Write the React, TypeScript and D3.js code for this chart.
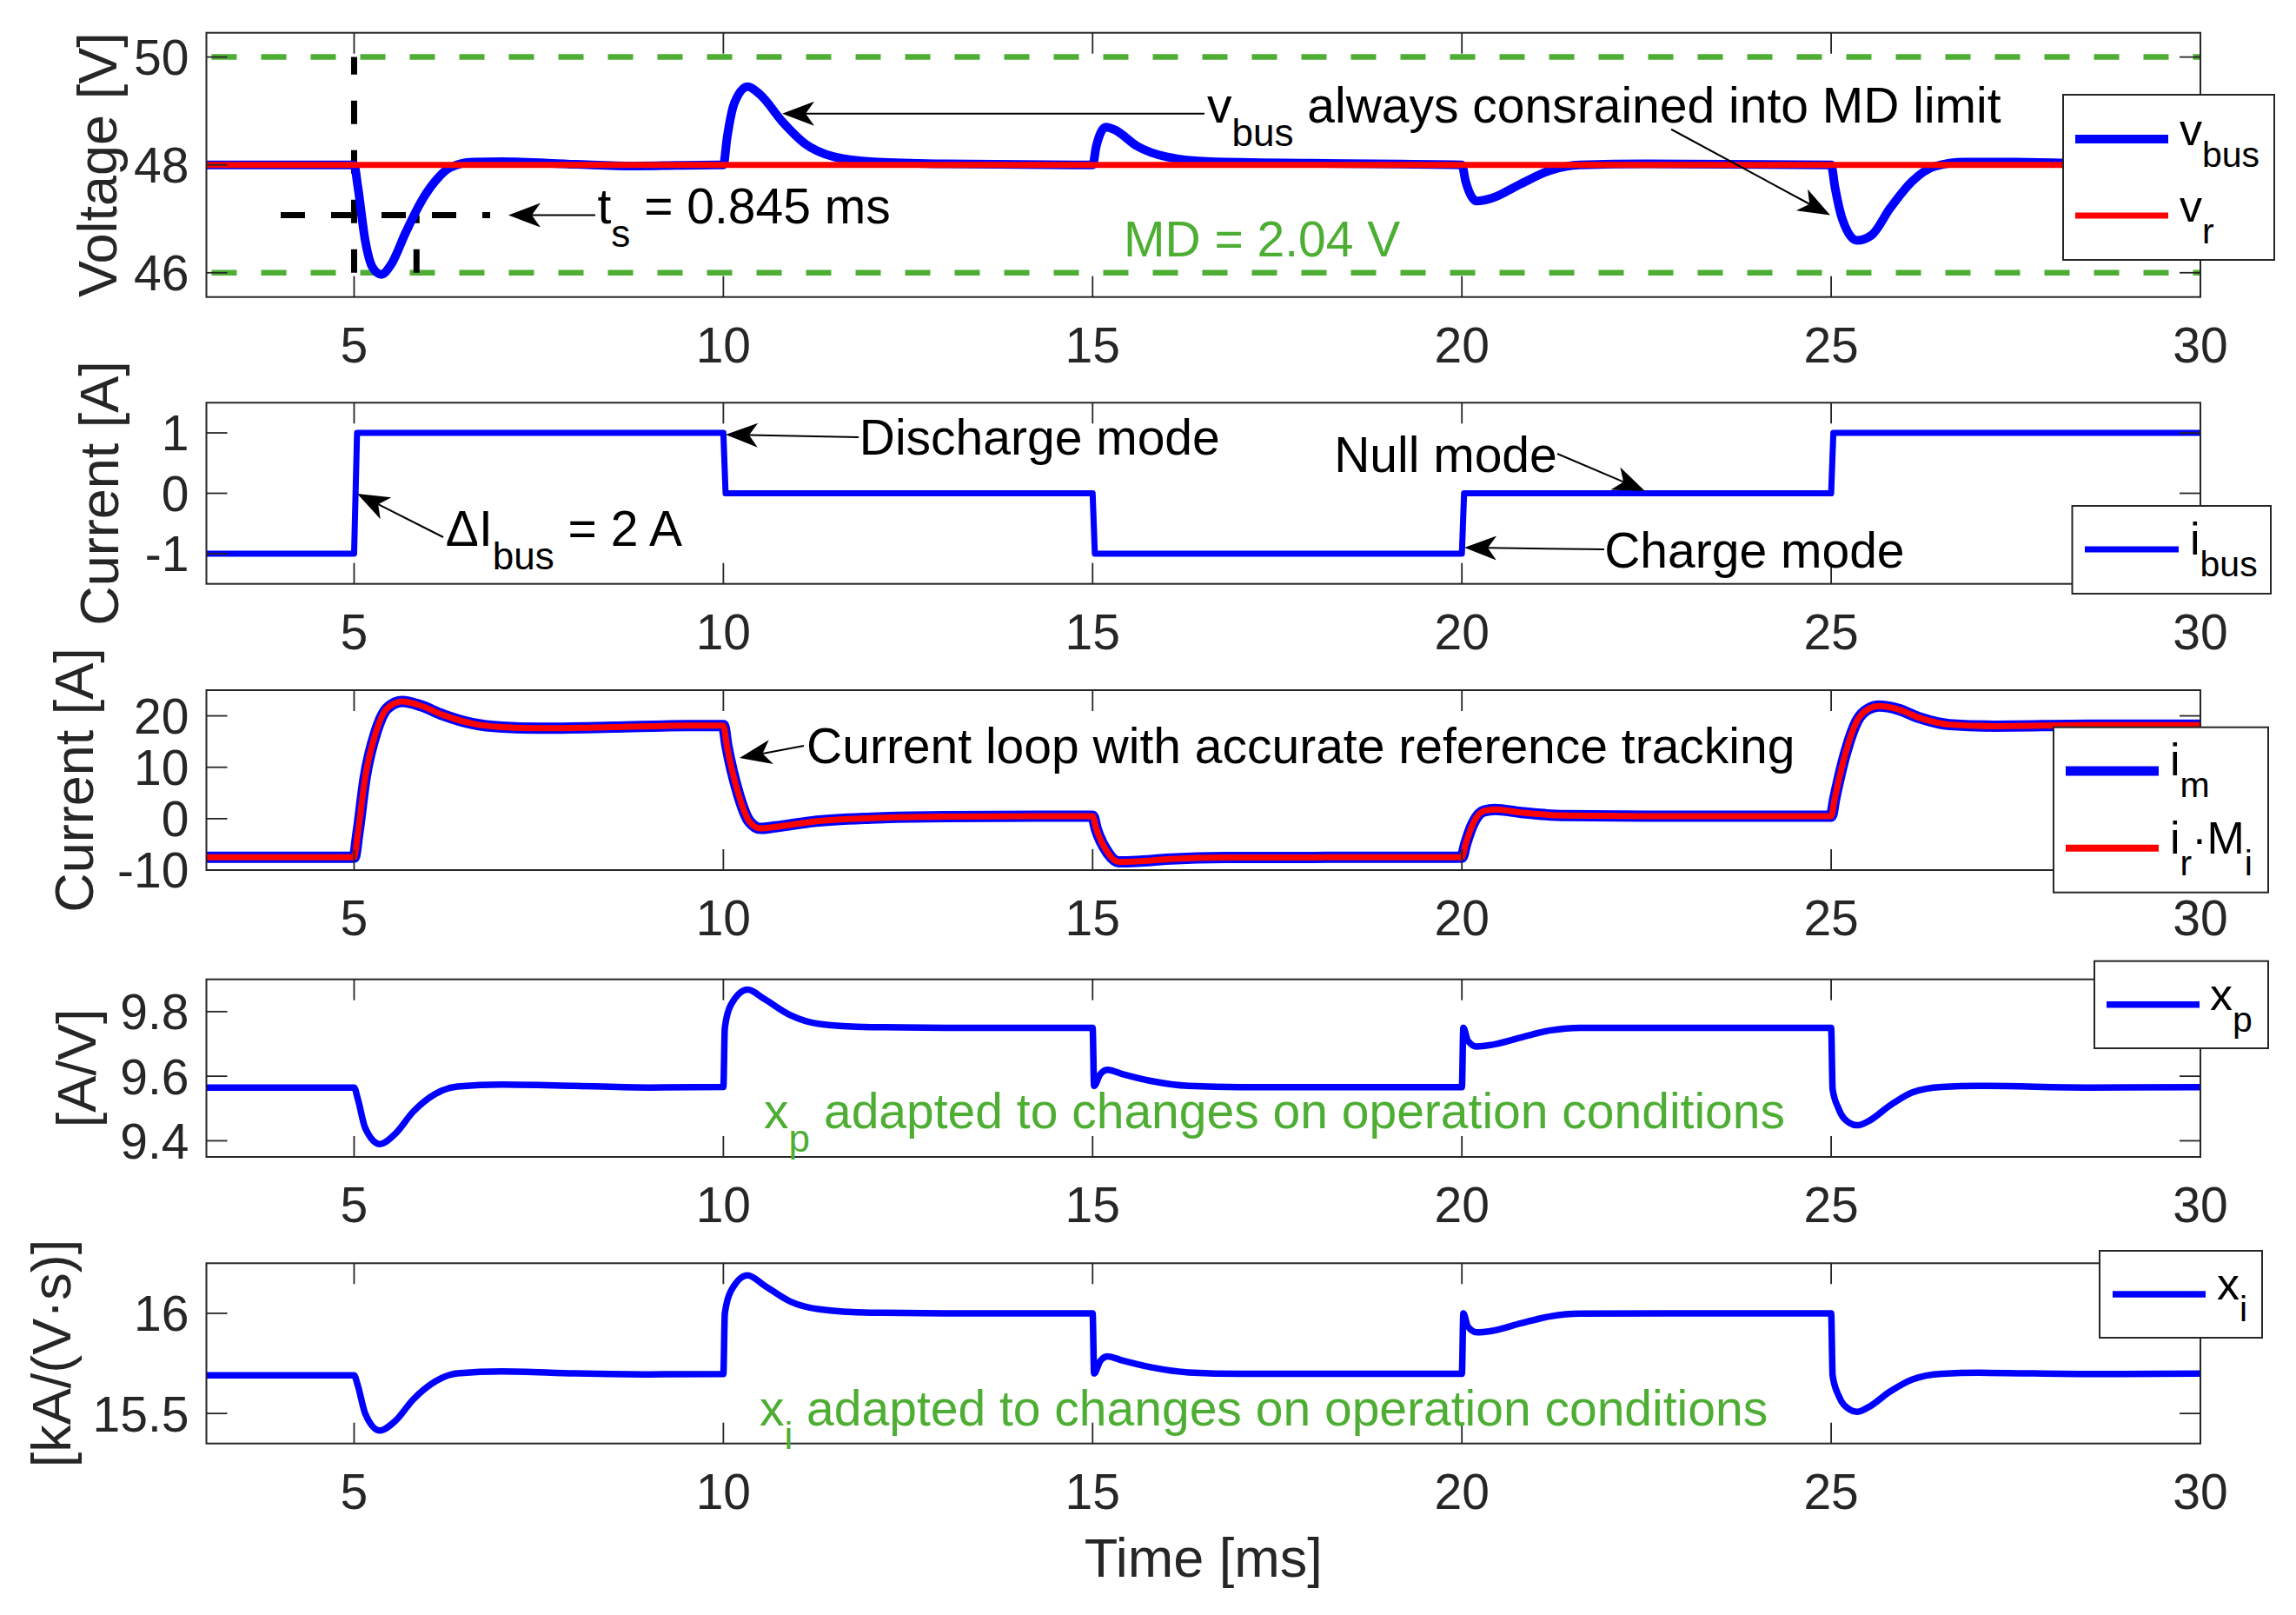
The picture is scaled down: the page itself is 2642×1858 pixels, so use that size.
import React from 'react';
import * as d3 from 'd3';

const W = 2642;
const H = 1858;
const FONT = '"Liberation Sans", Arial, Helvetica, sans-serif';
const AXIS = '#262626';
const BLUE = '#0000FF';
const RED = '#FF0000';
const GREEN = '#4DAE33';

// ---------------- data ----------------
const T_DOMAIN: [number, number] = [3, 30];
const T_TICKS = [5, 10, 15, 20, 25, 30];

type P = [number, number];

const vBus: P[] = [
  [3, 48], [5, 48], [5.05, 47.6], [5.15, 46.6], [5.25, 46.1], [5.37, 45.97], [5.5, 46.15], [5.7, 46.75],
  [5.9, 47.3], [6.1, 47.7], [6.3, 47.95], [6.6, 48.05], [7, 48.06], [8, 48.01], [8.8, 47.98], [9.9, 48.0],
  [10, 48], [10.05, 48.5], [10.15, 49.15], [10.33, 49.45], [10.5, 49.3], [10.8, 48.8], [11.1, 48.4],
  [11.5, 48.15], [12, 48.06], [13, 48.02], [15, 48], [15.05, 48.35], [15.18, 48.7], [15.3, 48.65],
  [15.6, 48.35], [16, 48.15], [16.6, 48.06], [18, 48.03], [20, 48], [20.05, 47.7], [20.2, 47.33],
  [20.4, 47.38], [20.8, 47.65], [21.2, 47.9], [21.6, 48.0], [22.5, 48.02], [25, 48], [25.05, 47.6],
  [25.15, 47.0], [25.35, 46.6], [25.55, 46.7], [25.8, 47.2], [26.1, 47.7], [26.4, 47.97], [26.8, 48.05],
  [27.5, 48.05], [28.5, 48.02], [30, 48],
];
const vRef: P[] = [[3, 48], [30, 48]];
const MD_UPPER = 50;
const MD_LOWER = 46;
const TS_START = 5;
const TS_END = 5.845;
const TS_LEVEL = 47.067;
const TS_LINE_T: [number, number] = [4.006, 6.842];

const iBus: P[] = [
  [3, -1], [5, -1], [5.04, 1], [10, 1], [10.03, 0], [15, 0], [15.03, -1], [20, -1], [20.03, 0], [25, 0],
  [25.03, 1], [30, 1],
];

const iM: P[] = [
  [3, -7.5], [5, -7.5], [5.05, -3], [5.15, 8], [5.3, 17], [5.45, 21.5], [5.65, 22.8], [5.9, 22],
  [6.2, 20.2], [6.6, 18.5], [7, 17.8], [7.5, 17.6], [8.5, 17.8], [9.5, 18.1], [10, 18.1], [10.05, 14],
  [10.2, 5], [10.35, -0.5], [10.5, -1.9], [10.7, -1.6], [11.2, -0.6], [12, 0.1], [13, 0.4], [15, 0.5],
  [15.05, -2], [15.2, -6.5], [15.35, -8.4], [15.6, -8.3], [16, -7.9], [16.8, -7.55], [20, -7.5],
  [20.05, -5], [20.15, -1], [20.3, 1.5], [20.45, 1.8], [20.8, 1.2], [21.4, 0.6], [22.5, 0.5], [25, 0.5],
  [25.05, 4], [25.2, 13], [25.35, 19], [25.5, 21.3], [25.65, 21.9], [25.9, 21.3], [26.2, 19.6],
  [26.6, 18.3], [27.2, 18], [28.5, 18.2], [30, 18.2],
];
const iRM: P[] = [
  [3, -7.5], [5, -7.5], [5.05, -3], [5.15, 8], [5.3, 17], [5.45, 21.5], [5.65, 22.8], [5.9, 22],
  [6.2, 20.2], [6.6, 18.5], [7, 17.8], [7.5, 17.6], [8.5, 17.8], [9.5, 18.1], [10, 18.1], [10.05, 14],
  [10.2, 5], [10.35, -0.5], [10.5, -1.9], [10.7, -1.6], [11.2, -0.6], [12, 0.1], [13, 0.4], [15, 0.5],
  [15.05, -2], [15.2, -6.5], [15.35, -8.4], [15.6, -8.3], [16, -7.9], [16.8, -7.55], [20, -7.5],
  [20.05, -5], [20.15, -1], [20.3, 1.5], [20.45, 1.8], [20.8, 1.2], [21.4, 0.6], [22.5, 0.5], [25, 0.5],
  [25.05, 4], [25.2, 13], [25.35, 19], [25.5, 21.3], [25.65, 21.9], [25.9, 21.3], [26.2, 19.6],
  [26.6, 18.3], [27.2, 18], [28.5, 18.2], [30, 18.2],
];

const xP: P[] = [
  [3, 9.565], [5, 9.565], [5.05, 9.53], [5.15, 9.44], [5.35, 9.39], [5.55, 9.42], [5.8, 9.49],
  [6.1, 9.545], [6.4, 9.568], [7, 9.574], [8, 9.57], [9, 9.565], [10, 9.567], [10.02, 9.75], [10.1, 9.82],
  [10.33, 9.868], [10.55, 9.84], [10.9, 9.79], [11.3, 9.762], [12, 9.752], [13, 9.75], [15, 9.75],
  [15.02, 9.57], [15.1, 9.605], [15.2, 9.62], [15.4, 9.607], [15.8, 9.585], [16.3, 9.57], [17, 9.566],
  [20, 9.566], [20.02, 9.75], [20.08, 9.71], [20.2, 9.692], [20.4, 9.697], [20.8, 9.72], [21.2, 9.742],
  [21.6, 9.75], [25, 9.75], [25.02, 9.56], [25.1, 9.5], [25.25, 9.455], [25.35, 9.448], [25.5, 9.46],
  [25.8, 9.51], [26.1, 9.55], [26.5, 9.567], [27, 9.57], [28.5, 9.565], [30, 9.566],
];

const xI: P[] = [
  [3, 15.69], [5, 15.69], [5.05, 15.64], [5.15, 15.5], [5.35, 15.415], [5.55, 15.46], [5.8, 15.57],
  [6.1, 15.66], [6.4, 15.7], [7, 15.71], [8, 15.7], [9, 15.695], [10, 15.697], [10.02, 16.0], [10.1, 16.11],
  [10.33, 16.19], [10.55, 16.14], [10.9, 16.06], [11.3, 16.02], [12, 16.003], [13, 16.0], [15, 16.0],
  [15.02, 15.7], [15.1, 15.76], [15.2, 15.785], [15.4, 15.765], [15.8, 15.73], [16.3, 15.705],
  [17, 15.698], [20, 15.698], [20.02, 16.0], [20.08, 15.935], [20.2, 15.905], [20.4, 15.912], [20.8, 15.95],
  [21.2, 15.985], [21.6, 15.998], [25, 16.0], [25.02, 15.69], [25.1, 15.59], [25.25, 15.52],
  [25.35, 15.508], [25.5, 15.53], [25.8, 15.61], [26.1, 15.67], [26.5, 15.698], [27, 15.703],
  [28.5, 15.697], [30, 15.699],
];

// y-axis ticks / labels
const P1_TICKS = [46, 48, 50];
const P2_TICKS = [-1, 0, 1];
const P3_TICKS = [-10, 0, 10, 20];
const P4_TICKS = [9.4, 9.6, 9.8];
const P5_TICKS = [15.5, 16];

type Part = { t: string; sub?: boolean };
type Arrow = { from: P; to: P };
type Note = { at: P; parts: Part[]; color?: string };

const P1_ARROWS: Arrow[] = [
  { from: [16.515, 48.95], to: [10.796, 48.95] },
  { from: [22.834, 48.66], to: [24.987, 47.067] },
  { from: [8.266, 47.067], to: [7.089, 47.067] },
];
const P2_ARROWS: Arrow[] = [
  { from: [6.207, -0.727], to: [5.042, -0.007] },
  { from: [11.832, 0.928], to: [10.031, 0.972] },
  { from: [21.292, 0.655], to: [22.48, 0.036] },
  { from: [21.928, -0.928], to: [20.033, -0.9] },
];
const P3_ARROWS: Arrow[] = [{ from: [11.09, 14.18], to: [10.219, 11.81] }];

const P1_NOTES: Note[] = [
  { at: [8.295, 46.92], parts: [{ t: 't' }, { t: 's', sub: true }, { t: ' = 0.845 ms' }] },
  { at: [16.55, 48.777], parts: [{ t: 'v' }, { t: 'bus', sub: true }, { t: ' always consrained into MD limit' }] },
  { at: [15.42, 46.31], parts: [{ t: 'MD = 2.04 V' }], color: GREEN },
];
const P2_NOTES: Note[] = [
  { at: [6.24, -0.875], parts: [{ t: '\u0394I' }, { t: 'bus', sub: true }, { t: ' = 2 A' }] },
  { at: [11.84, 0.64], parts: [{ t: 'Discharge mode' }] },
  { at: [18.27, 0.353], parts: [{ t: 'Null mode' }] },
  { at: [21.93, -1.231], parts: [{ t: 'Charge mode' }] },
];
const P3_NOTES: Note[] = [
  { at: [11.126, 10.8], parts: [{ t: 'Current loop with accurate reference tracking' }] },
];
const P4_NOTES: Note[] = [
  { at: [10.55, 9.438], parts: [{ t: 'x' }, { t: 'p', sub: true }, { t: ' adapted to changes on operation conditions' }], color: GREEN },
];
const P5_NOTES: Note[] = [
  { at: [10.49, 15.44], parts: [{ t: 'x' }, { t: 'i', sub: true }, { t: ' adapted to changes on operation conditions' }], color: GREEN },
];

// ---------------- layout ----------------
const X0 = 237.5;
const X1 = 2532;
const TICK_LEN = 24;
const TICK_FS = 57;
const LABEL_FS = 63;
const NOTE_FS = 57;
const NOTE_SUB_FS = 44;
const NOTE_SUB_DY = 27;
const LEG_FS = 52;
const LEG_SUB_FS = 41;
const LEG_SUB_DY = 25;

const xScale = d3.scaleLinear().domain(T_DOMAIN).range([X0, X1]);

function RichText({ x, y, parts, size, subSize, subDy, fill, anchor }: any) {
  let cur = 0;
  return (
    <text x={x} y={y} fontSize={size} fill={fill} fontFamily={FONT} textAnchor={anchor || 'start'} style={{ whiteSpace: 'pre' }}>
      {parts.map((p: Part, i: number) => {
        const target = p.sub ? subDy : 0;
        const dy = target - cur;
        cur = target;
        return (
          <tspan key={i} dy={dy} fontSize={p.sub ? subSize : size}>
            {p.t}
          </tspan>
        );
      })}
    </text>
  );
}

function ArrowMark({ x1, y1, x2, y2 }: any) {
  const dx = x2 - x1;
  const dy = y2 - y1;
  const L = Math.hypot(dx, dy);
  const ux = dx / L;
  const uy = dy / L;
  const px = -uy;
  const py = ux;
  const hl = 37;
  const hw = 14;
  const notch = 27;
  const bx = x2 - ux * hl;
  const by = y2 - uy * hl;
  const nx = x2 - ux * notch;
  const ny = y2 - uy * notch;
  const d = `M${x2},${y2}L${bx + px * hw},${by + py * hw}L${nx},${ny}L${bx - px * hw},${by - py * hw}Z`;
  return (
    <g>
      <line x1={x1} y1={y1} x2={nx} y2={ny} stroke="#000" strokeWidth={2} />
      <path d={d} fill="#000" />
    </g>
  );
}

type Series = { data: P[]; color: string; width: number; curve?: any };
type Panel = {
  id: string;
  top: number;
  bottom: number;
  domain: [number, number];
  ticks: number[];
  label: string;
  labelX: number;
  series: Series[];
  arrows: Arrow[];
  notes: Note[];
};

const panels: Panel[] = [
  {
    id: 'p1', top: 37.7, bottom: 341.7, domain: [45.55, 50.45], ticks: P1_TICKS, label: 'Voltage [V]', labelX: 134,
    series: [
      { data: vBus, color: BLUE, width: 10 },
      { data: vRef, color: RED, width: 7, curve: d3.curveLinear },
    ],
    arrows: P1_ARROWS, notes: P1_NOTES,
  },
  {
    id: 'p2', top: 463.3, bottom: 671.7, domain: [-1.5, 1.5], ticks: P2_TICKS, label: 'Current [A]', labelX: 136,
    series: [{ data: iBus, color: BLUE, width: 7, curve: d3.curveLinear }],
    arrows: P2_ARROWS, notes: P2_NOTES,
  },
  {
    id: 'p3', top: 794, bottom: 1001, domain: [-10, 25], ticks: P3_TICKS, label: 'Current [A]', labelX: 107,
    series: [
      { data: iM, color: BLUE, width: 13 },
      { data: iRM, color: RED, width: 7 },
    ],
    arrows: P3_ARROWS, notes: P3_NOTES,
  },
  {
    id: 'p4', top: 1126.7, bottom: 1331, domain: [9.35, 9.9], ticks: P4_TICKS, label: '[A/V]', labelX: 110,
    series: [{ data: xP, color: BLUE, width: 7.5 }],
    arrows: [], notes: P4_NOTES,
  },
  {
    id: 'p5', top: 1453.3, bottom: 1660.7, domain: [15.35, 16.25], ticks: P5_TICKS, label: '[kA/(V\u00B7s)]', labelX: 81,
    series: [{ data: xI, color: BLUE, width: 7.5 }],
    arrows: [], notes: P5_NOTES,
  },
];

type LegendEntry = { color: string; width: number; parts: Part[]; y: number; textY: number };
type Legend = { x0: number; y0: number; x1: number; y1: number; lx0: number; lx1: number; tx: number; entries: LegendEntry[] };

const legends: Legend[] = [
  {
    x0: 2374, y0: 109, x1: 2617, y1: 299, lx0: 2388, lx1: 2495, tx: 2508,
    entries: [
      { color: BLUE, width: 10, parts: [{ t: 'v' }, { t: 'bus', sub: true }], y: 160, textY: 166.7 },
      { color: RED, width: 7, parts: [{ t: 'v' }, { t: 'r', sub: true }], y: 248, textY: 255 },
    ],
  },
  {
    x0: 2384.5, y0: 582, x1: 2613, y1: 683, lx0: 2399, lx1: 2507, tx: 2520,
    entries: [{ color: BLUE, width: 7, parts: [{ t: 'i' }, { t: 'bus', sub: true }], y: 632, textY: 638 }],
  },
  {
    x0: 2363, y0: 836.7, x1: 2610, y1: 1026.7, lx0: 2377, lx1: 2484, tx: 2497,
    entries: [
      { color: BLUE, width: 11, parts: [{ t: 'i' }, { t: 'm', sub: true }], y: 887, textY: 892 },
      { color: RED, width: 8, parts: [{ t: 'i' }, { t: 'r', sub: true }, { t: '\u00B7M' }, { t: 'i', sub: true }], y: 975.7, textY: 982 },
    ],
  },
  {
    x0: 2410, y0: 1105.7, x1: 2610, y1: 1206, lx0: 2424, lx1: 2531, tx: 2543,
    entries: [{ color: BLUE, width: 7.5, parts: [{ t: 'x' }, { t: 'p', sub: true }], y: 1155.7, textY: 1162 }],
  },
  {
    x0: 2416, y0: 1439, x1: 2603, y1: 1539, lx0: 2431, lx1: 2538, tx: 2551,
    entries: [{ color: BLUE, width: 7.5, parts: [{ t: 'x' }, { t: 'i', sub: true }], y: 1489, textY: 1495 }],
  },
];

function PanelView({ p }: { p: Panel }) {
  const y = d3.scaleLinear().domain(p.domain).range([p.bottom, p.top]);
  const clipId = `clip-${p.id}`;
  return (
    <g>
      <defs>
        <clipPath id={clipId}>
          <rect x={X0} y={p.top} width={X1 - X0} height={p.bottom - p.top} />
        </clipPath>
      </defs>
      <rect x={X0} y={p.top} width={X1 - X0} height={p.bottom - p.top} fill="#fff" />

      {p.id === 'p1' && (
        <g clipPath={`url(#${clipId})`}>
          {[MD_UPPER, MD_LOWER].map((v) => (
            <line key={v} x1={xScale(T_DOMAIN[0]) + 6} x2={xScale(T_DOMAIN[1])} y1={y(v)} y2={y(v)} stroke={GREEN} strokeWidth={6.5} strokeDasharray="29,28" />
          ))}
          <line x1={xScale(TS_START)} x2={xScale(TS_START)} y1={y(MD_LOWER)} y2={y(MD_UPPER)} stroke="#000" strokeWidth={7} strokeDasharray="27,30" />
          <line x1={xScale(TS_END)} x2={xScale(TS_END)} y1={y(MD_LOWER)} y2={y(TS_LEVEL)} stroke="#000" strokeWidth={7} strokeDasharray="27,30" />
          <line x1={xScale(TS_LINE_T[0])} x2={xScale(TS_LINE_T[1])} y1={y(TS_LEVEL)} y2={y(TS_LEVEL)} stroke="#000" strokeWidth={7} strokeDasharray="28,30" />
        </g>
      )}

      <g clipPath={`url(#${clipId})`}>
        {p.series.map((s, i) => {
          const gen = d3
            .line<P>()
            .x((d) => xScale(d[0]))
            .y((d) => y(d[1]))
            .curve(s.curve || d3.curveMonotoneX);
          return <path key={i} d={gen(s.data) || ''} fill="none" stroke={s.color} strokeWidth={s.width} strokeLinejoin="round" strokeLinecap="round" />;
        })}
      </g>

      {/* box */}
      <rect x={X0} y={p.top} width={X1 - X0} height={p.bottom - p.top} fill="none" stroke={AXIS} strokeWidth={2} />
      {/* x ticks */}
      {T_TICKS.map((t) => (
        <g key={t}>
          <line x1={xScale(t)} x2={xScale(t)} y1={p.bottom} y2={p.bottom - TICK_LEN} stroke={AXIS} strokeWidth={1.8} />
          <line x1={xScale(t)} x2={xScale(t)} y1={p.top} y2={p.top + TICK_LEN} stroke={AXIS} strokeWidth={1.8} />
          <text x={xScale(t)} y={p.bottom + 75} fontSize={TICK_FS} fontFamily={FONT} fill={AXIS} textAnchor="middle">
            {String(t)}
          </text>
        </g>
      ))}
      {/* y ticks */}
      {p.ticks.map((v) => (
        <g key={v}>
          <line x1={X0} x2={X0 + TICK_LEN} y1={y(v)} y2={y(v)} stroke={AXIS} strokeWidth={1.8} />
          <line x1={X1} x2={X1 - TICK_LEN} y1={y(v)} y2={y(v)} stroke={AXIS} strokeWidth={1.8} />
          <text x={X0 - 20} y={y(v) + TICK_FS * 0.358} fontSize={TICK_FS} fontFamily={FONT} fill={AXIS} textAnchor="end">
            {String(v)}
          </text>
        </g>
      ))}
      {/* y label */}
      <text
        transform={`translate(${p.labelX},${(p.top + p.bottom) / 2}) rotate(-90)`}
        fontSize={LABEL_FS}
        fontFamily={FONT}
        fill={AXIS}
        textAnchor="middle"
      >
        {p.label}
      </text>

      {/* annotations */}
      {p.notes.map((n, i) => (
        <RichText
          key={i}
          x={xScale(n.at[0])}
          y={y(n.at[1])}
          parts={n.parts}
          size={NOTE_FS}
          subSize={NOTE_SUB_FS}
          subDy={NOTE_SUB_DY}
          fill={n.color || '#000'}
        />
      ))}
      {p.arrows.map((a, i) => (
        <ArrowMark key={i} x1={xScale(a.from[0])} y1={y(a.from[1])} x2={xScale(a.to[0])} y2={y(a.to[1])} />
      ))}
    </g>
  );
}

function LegendView({ l }: { l: Legend }) {
  return (
    <g>
      <rect x={l.x0} y={l.y0} width={l.x1 - l.x0} height={l.y1 - l.y0} fill="#fff" stroke={AXIS} strokeWidth={2} />
      {l.entries.map((e, i) => (
        <g key={i}>
          <line x1={l.lx0} x2={l.lx1} y1={e.y} y2={e.y} stroke={e.color} strokeWidth={e.width} />
          <RichText x={l.tx} y={e.textY} parts={e.parts} size={LEG_FS} subSize={LEG_SUB_FS} subDy={LEG_SUB_DY} fill="#000" />
        </g>
      ))}
    </g>
  );
}

export default function App() {
  return (
    <div style={{ position: 'absolute', left: 0, top: 0, width: W, height: H, overflow: 'hidden', background: '#fff' }}>
      <svg width={W} height={H} viewBox={`0 0 ${W} ${H}`} style={{ display: 'block' }}>
        <rect x={0} y={0} width={W} height={H} fill="#fff" />
        {panels.map((p) => (
          <PanelView key={p.id} p={p} />
        ))}
        {legends.map((l, i) => (
          <LegendView key={i} l={l} />
        ))}
        <text x={(X0 + X1) / 2} y={1814} fontSize={LABEL_FS} fontFamily={FONT} fill={AXIS} textAnchor="middle">
          Time [ms]
        </text>
      </svg>
    </div>
  );
}
